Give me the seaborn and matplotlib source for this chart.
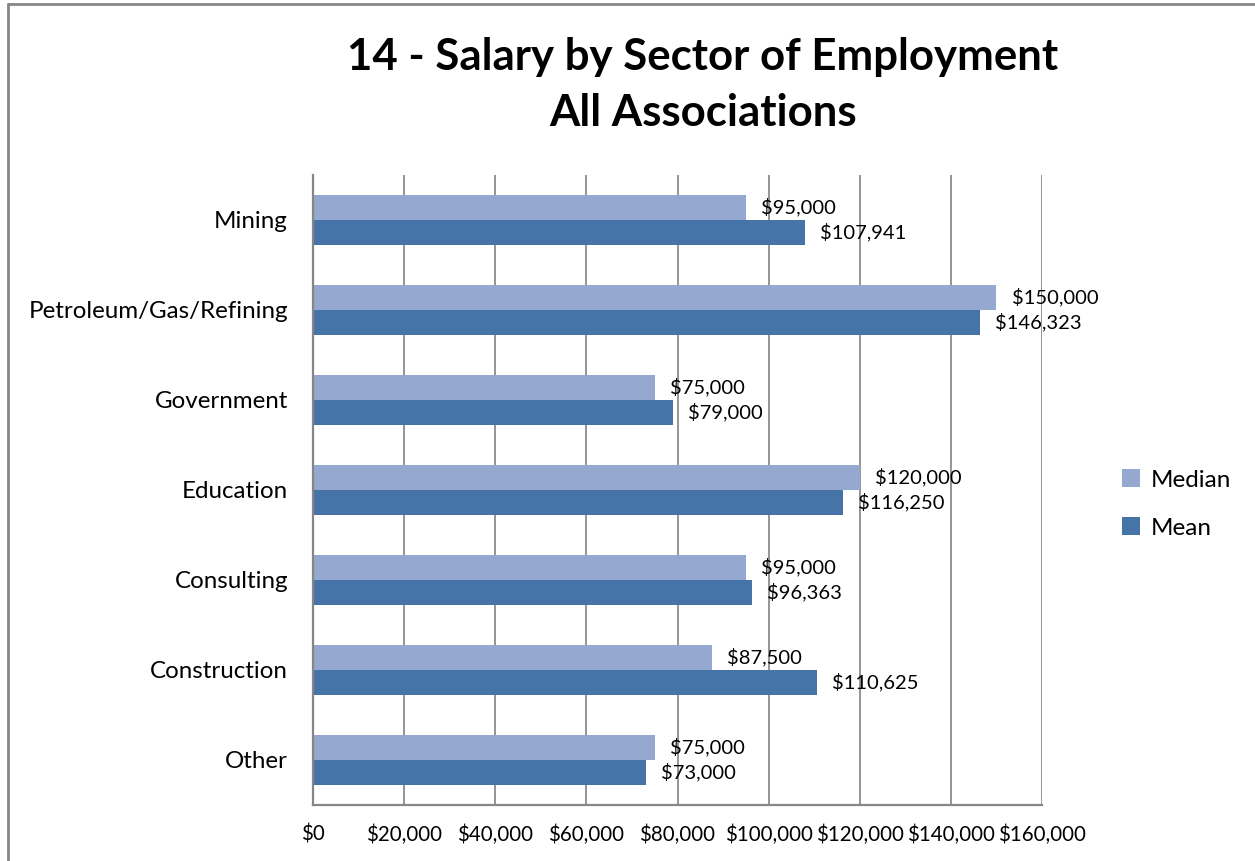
import matplotlib
matplotlib.use("Agg")
import matplotlib.pyplot as plt
from matplotlib.lines import Line2D
from matplotlib.patches import Patch
import seaborn as sns
import pandas as pd

sectors = ["Mining", "Petroleum/Gas/Refining", "Government", "Education",
           "Consulting", "Construction", "Other"]
median = [95000, 150000, 75000, 120000, 95000, 87500, 75000]
mean = [107941, 146323, 79000, 116250, 96363, 110625, 73000]
series = ["Median", "Mean"]
colors = {"Median": "#95A9D0", "Mean": "#4674A8"}
xticks = [0, 20000, 40000, 60000, 80000, 100000, 120000, 140000, 160000]

df = pd.DataFrame({
    "Sector": sectors * 2,
    "Salary": median + mean,
    "Stat": ["Median"] * len(sectors) + ["Mean"] * len(sectors),
})

sns.set_style("white")
plt.rcParams["font.family"] = ["Lato", "DejaVu Sans"]
plt.rcParams["text.color"] = "black"

fig = plt.figure(figsize=(12.55, 8.61), dpi=100)
ax = fig.add_axes([313/1255, 1-805/861, (1042-313)/1255, (805-175)/861])

sns.barplot(data=df, y="Sector", x="Salary", hue="Stat", order=sectors,
            hue_order=series, palette=colors, orient="h", width=50/90,
            saturation=1, errorbar=None, ax=ax, legend=False, linewidth=0)

for cont in ax.containers:
    ax.bar_label(cont, labels=[f"${v:,.0f}" for v in cont.datavalues],
                 padding=11, fontsize=14.5, color="#000000")

ax.set_xlim(0, 160000)
ax.set_xticks(xticks)
ax.set_xticklabels([f"${v:,}" for v in xticks], fontsize=14.8, color="black")
ax.set_xlabel("")
ax.set_ylabel("")
ax.tick_params(axis="y", labelsize=17.4, pad=18, length=0, labelcolor="black")
ax.tick_params(axis="x", pad=14, length=0)
ax.grid(axis="x", color="#8C8C8C", linewidth=1.3)
ax.set_axisbelow(True)
for s in ["top", "right"]:
    ax.spines[s].set_visible(False)
for s in ["left", "bottom"]:
    ax.spines[s].set_color("#868686")
    ax.spines[s].set_linewidth(1.6)

fig.text(703/1255, 1-57/861, "14 - Salary by Sector of Employment",
         ha="center", va="center", fontsize=31.5, fontweight="bold")
fig.text(703/1255, 1-113/861, "All Associations",
         ha="center", va="center", fontsize=31.5, fontweight="bold")

handles = [Patch(facecolor=colors[s], edgecolor="none", label=s) for s in series]
fig.legend(handles=handles, loc="center left", bbox_to_anchor=(1100/1255, 1-504/861),
           frameon=False, fontsize=17.5, handlelength=0.75, handleheight=0.75,
           handletextpad=0.45, labelspacing=1.1)

# outer chart frame
fig.add_artist(Line2D([8/1255, 1], [1-4/861, 1-4/861], color="#868686", lw=2,
                      transform=fig.transFigure))
fig.add_artist(Line2D([8/1255, 8/1255], [0, 1-4/861], color="#868686", lw=2,
                      transform=fig.transFigure))

fig.savefig("out.png", dpi=100)
